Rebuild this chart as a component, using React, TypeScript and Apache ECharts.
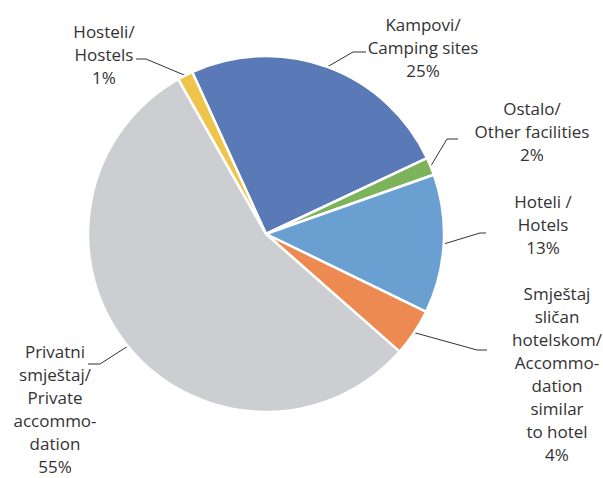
import React, { useEffect, useRef } from "react";
import * as echarts from "echarts";

const categories = [
  "Kampovi/\nCamping sites",
  "Ostalo/\nOther facilities",
  "Hoteli /\nHotels",
  "Smještaj\nsličan\nhotelskom/\nAccommo-\ndation\nsimilar\nto hotel",
  "Privatni\nsmještaj/\nPrivate\naccommo-\ndation",
  "Hosteli/\nHostels",
];
const values = [24.8, 1.6, 12.6, 4.3, 55.3, 1.4];
const colors = ["#5a79b7", "#7db35b", "#6a9fd1", "#ec8a51", "#cdced2", "#eec44a"];

// label anchor (centre of text block) and leader-line elbow/end points
const labelCenters = [
  [423, 47],
  [532, 131],
  [543, 224],
  [557, 374],
  [55, 409],
  [104, 54],
];
const leaderElbows = [
  [[353, 52], [366, 52]],
  [[447, 139], [458, 139]],
  [[480, 233], [486, 233]],
  [[477, 350], [487, 350]],
  [[100, 364], [88, 364]],
  [[146, 59], [136, 59]],
];

export default function App() {
  const ref = useRef<HTMLDivElement>(null);
  useEffect(() => {
    if (!ref.current) return;
    const chart = echarts.init(ref.current, null, { renderer: "svg" });
    const cx = 266;
    const cy = 234;
    const r = 178;
    chart.setOption({
      animation: false,
      backgroundColor: "#ffffff",
      series: [
        {
          type: "pie",
          center: [cx, cy],
          radius: [0, r],
          startAngle: 114.5,
          clockwise: true,
          percentPrecision: 0,
          avoidLabelOverlap: false,
          itemStyle: { borderColor: "#ffffff", borderWidth: 2.5 },
          label: {
            show: true,
            formatter: "{b}\n{d}%",
            fontFamily: "Open Sans",
            fontSize: 17,
            lineHeight: 23,
            color: "#333333",
            align: "center",
          },
          labelLine: {
            show: true,
            lineStyle: { color: "#333333", width: 1 },
          },
          labelLayout: (params: any) => {
            const i = params.dataIndex;
            const c = labelCenters[i];
            const e = leaderElbows[i];
            const start =
              params.labelLinePoints && params.labelLinePoints[0]
                ? params.labelLinePoints[0]
                : [cx, cy];
            return {
              x: c[0],
              y: c[1],
              align: "center",
              verticalAlign: "middle",
              labelLinePoints: [start, e[0], e[1]],
            };
          },
          data: categories.map((name, i) => ({
            name,
            value: values[i],
            itemStyle: { color: colors[i] },
          })),
        },
      ],
    });
    return () => chart.dispose();
  }, []);
  return (
    <div
      ref={ref}
      style={{ position: "fixed", left: 0, top: 0, width: 603, height: 478 }}
    />
  );
}
